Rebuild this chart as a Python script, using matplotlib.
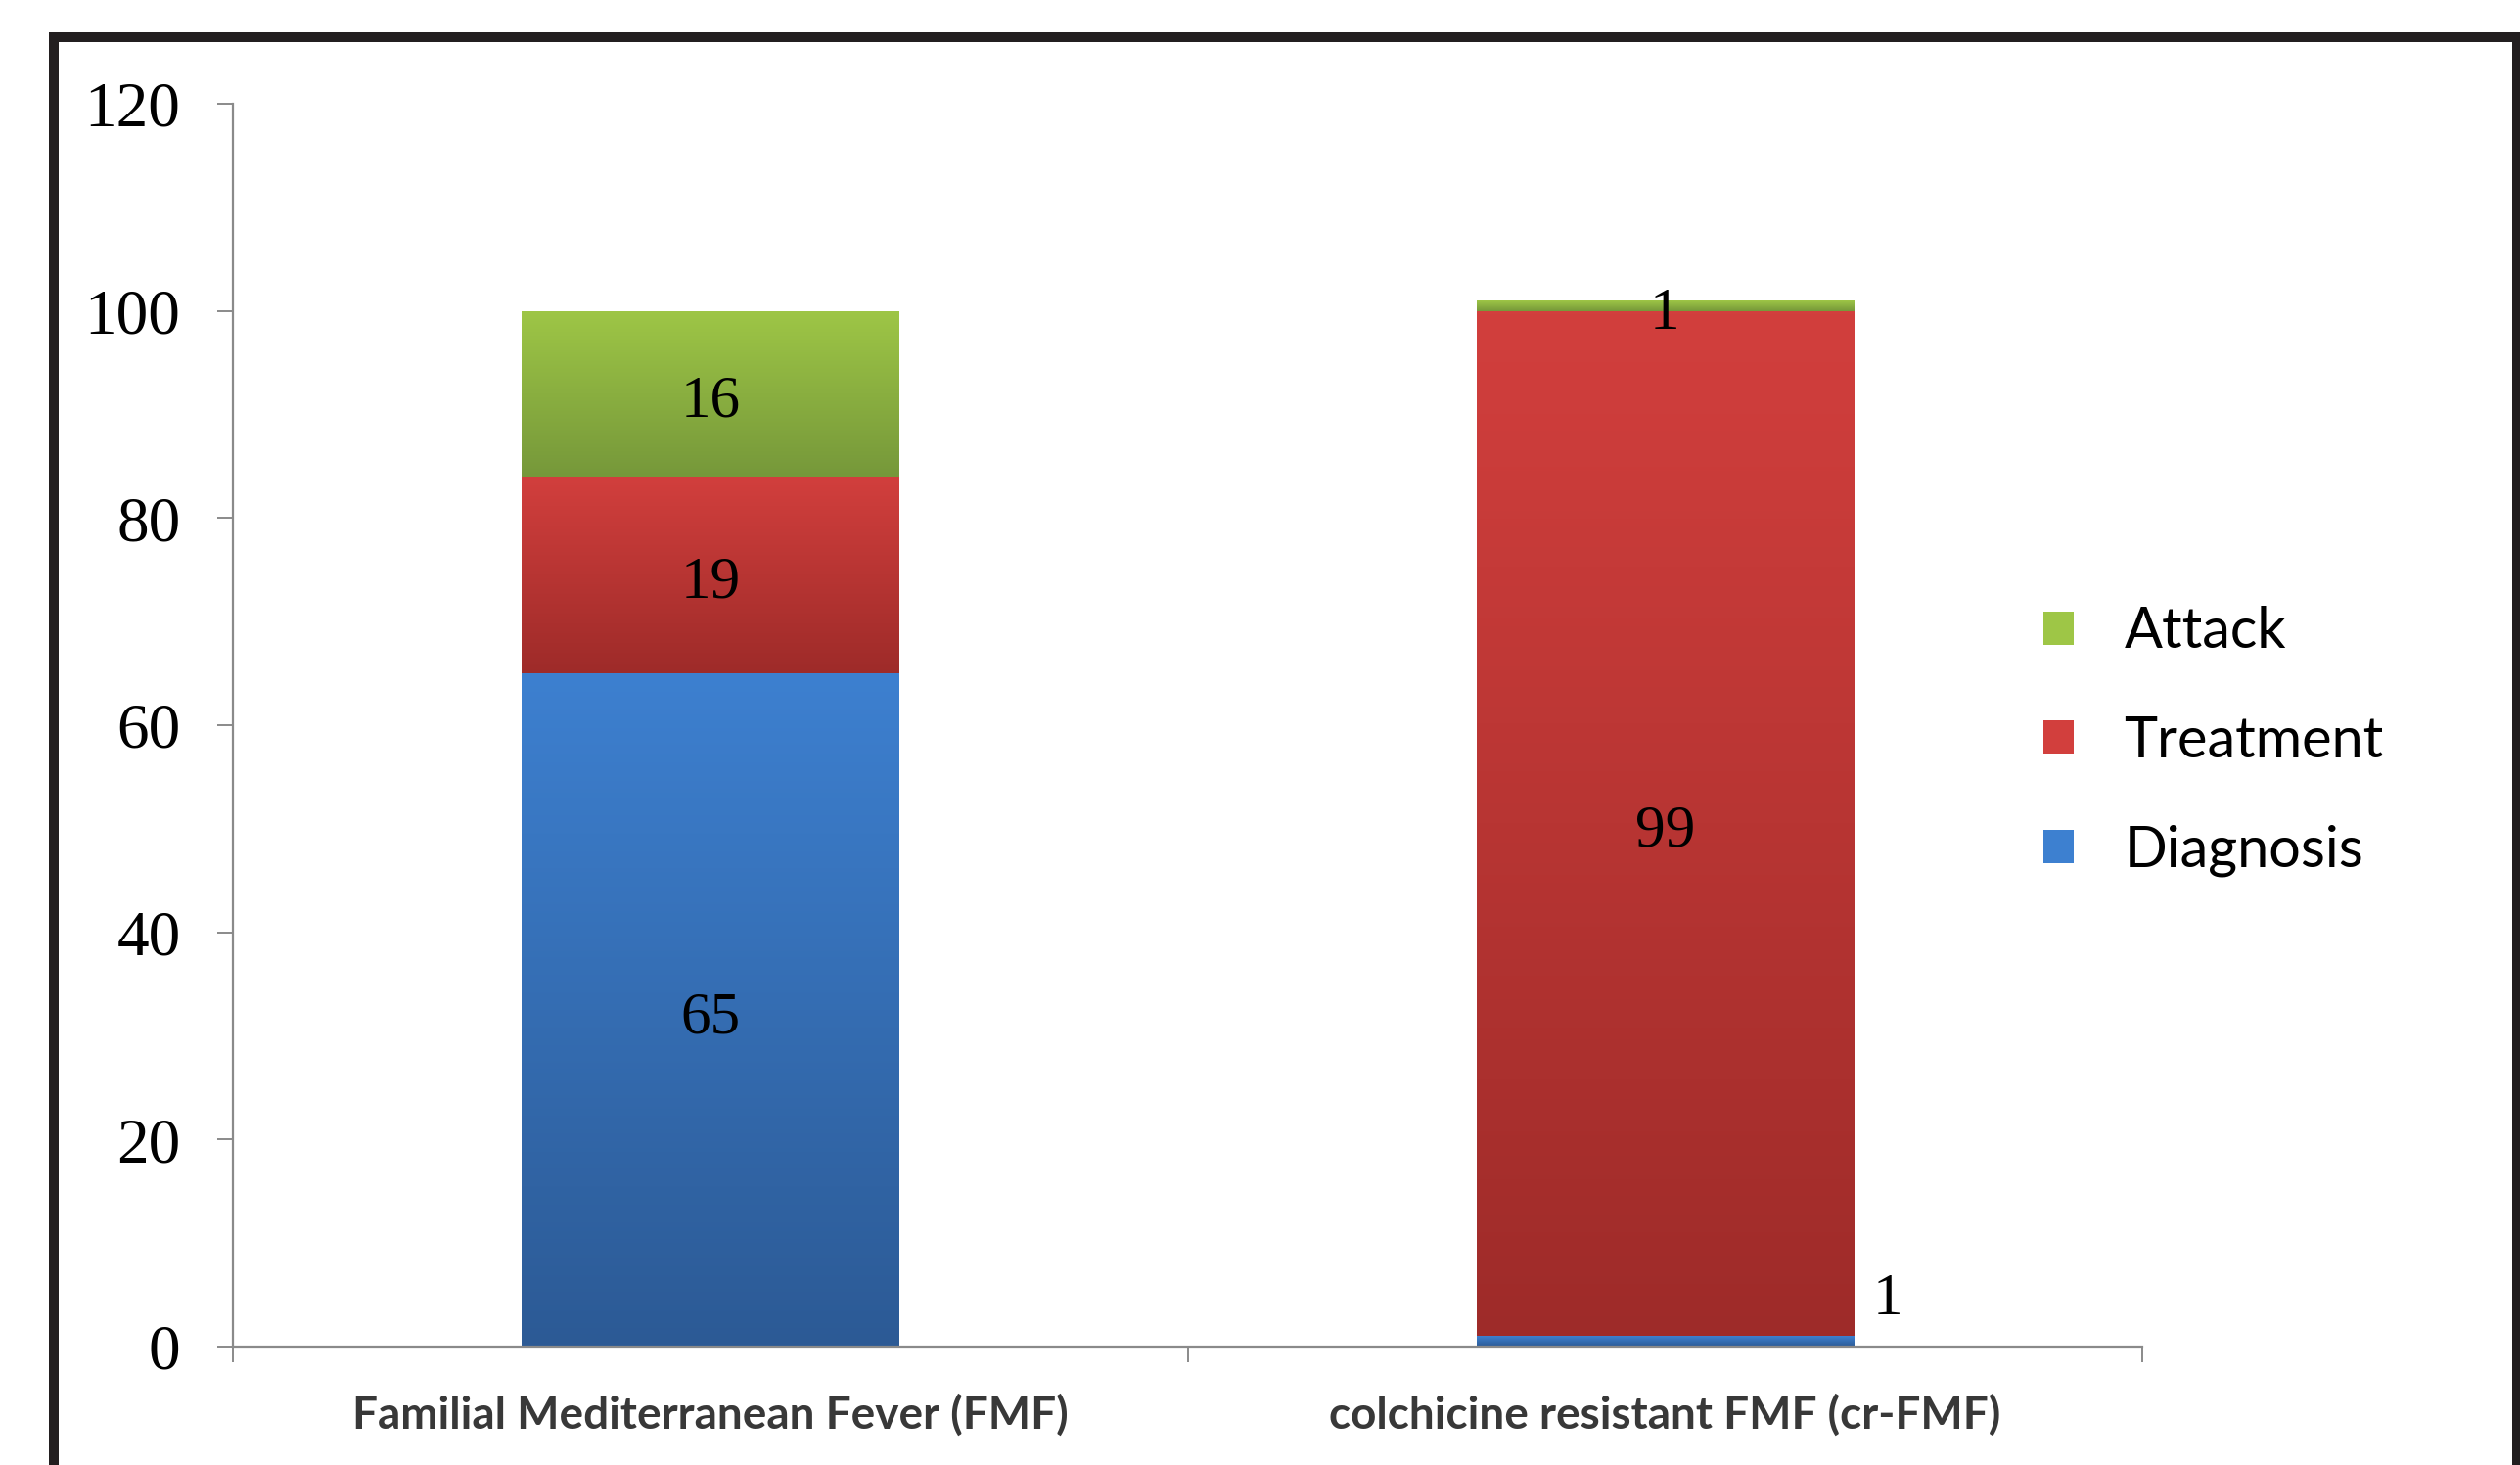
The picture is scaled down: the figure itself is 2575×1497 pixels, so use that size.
import matplotlib
matplotlib.use("Agg")
import matplotlib.pyplot as plt
import numpy as np
from matplotlib.colors import LinearSegmentedColormap
from matplotlib.patches import Rectangle, Patch

categories = ["Familial Mediterranean Fever (FMF)", "colchicine resistant FMF (cr-FMF)"]
diagnosis = [65, 1]
treatment = [19, 99]
attack = [16, 1]

# (top, bottom) colours of the vertical gradient in each segment
GREEN = ("#9ec646", "#76983a")
RED = ("#d23f3d", "#9e2b29")
BLUE = ("#3d80d0", "#2c5a95")

W, H, DPI = 2575, 1497, 100


def gradient_fill(ax, bars, colors):
    cmap = LinearSegmentedColormap.from_list("seg", [colors[1], colors[0]])
    grad = np.linspace(0, 1, 256).reshape(-1, 1)
    for bar in bars:
        x, y = bar.get_xy()
        w, h = bar.get_width(), bar.get_height()
        if h <= 0:
            continue
        im = ax.imshow(grad, extent=(x, x + w, y, y + h), origin="lower",
                       cmap=cmap, aspect="auto", zorder=bar.get_zorder() + 0.1)
        im.set_clip_path(bar)


fig = plt.figure(figsize=(W / DPI, H / DPI), dpi=DPI)
ax = fig.add_axes([238 / W, 1 - 1376 / H, (2189 - 238) / W, (1376 - 106) / H])

x = np.arange(len(categories))
width = 0.395
b_diag = ax.bar(x, diagnosis, width, color=BLUE[0], linewidth=0, zorder=2)
b_treat = ax.bar(x, treatment, width, bottom=diagnosis, color=RED[0], linewidth=0, zorder=2)
bottom_att = [d + t for d, t in zip(diagnosis, treatment)]
b_att = ax.bar(x, attack, width, bottom=bottom_att, color=GREEN[0], linewidth=0, zorder=2)
gradient_fill(ax, b_diag, BLUE)
gradient_fill(ax, b_treat, RED)
gradient_fill(ax, b_att, GREEN)

ax.set_xlim(-0.5, 1.5)
ax.set_ylim(0, 120)

serif = "Liberation Serif"
drop = 0.8  # labels sit a little below the segment middle, as in the original
label_kw = dict(ha="center", va="center", fontsize=44, family=serif, color="black", zorder=5)
# values inside the FMF bar
ax.text(x[0], diagnosis[0] / 2 - drop, str(diagnosis[0]), **label_kw)
ax.text(x[0], diagnosis[0] + treatment[0] / 2 - drop, str(treatment[0]), **label_kw)
ax.text(x[0], bottom_att[0] + attack[0] / 2 - drop, str(attack[0]), **label_kw)
# cr-FMF bar
ax.text(x[1], diagnosis[1] + treatment[1] / 2 - drop, str(treatment[1]), **label_kw)
ax.text(x[1], bottom_att[1] + attack[1] / 2 - drop, str(attack[1]), **label_kw)
ax.text(x[1] + width / 2 + 0.02, diagnosis[1] + 3.5, str(diagnosis[1]),
        ha="left", va="center", fontsize=44, family=serif, color="black")

# axes styling
axis_grey = "#8a8a8a"
for side in ("top", "right"):
    ax.spines[side].set_visible(False)
for side in ("left", "bottom"):
    ax.spines[side].set_color(axis_grey)
    ax.spines[side].set_linewidth(1.6)

ax.set_yticks(range(0, 121, 20))
ax.tick_params(axis="y", direction="out", length=11.5, width=1.4, color=axis_grey,
               pad=27, labelsize=47)
for lbl in ax.get_yticklabels():
    lbl.set_family(serif)

ax.set_xticks(x, categories)
ax.set_xticks([-0.5, 0.5, 1.5], minor=True)
ax.tick_params(axis="x", which="major", length=0, pad=35, labelsize=33,
               labelcolor="#383838")
ax.tick_params(axis="x", which="minor", direction="out", length=11.5, width=1.4,
               color=axis_grey)
for lbl in ax.get_xticklabels():
    lbl.set_family("Lato")
    lbl.set_fontweight("bold")

handles = [Patch(facecolor=GREEN[0]), Patch(facecolor=RED[0]), Patch(facecolor=BLUE[0])]
fig.legend(handles, ["Attack", "Treatment", "Diagnosis"], loc="upper left",
           bbox_to_anchor=(2088 / W, 1 - 619 / H), bbox_transform=fig.transFigure,
           frameon=False, prop={"family": "Lato", "size": 41.5},
           handlelength=0.53, handleheight=0.53, handletextpad=0.9,
           labelspacing=1.02, borderpad=0, borderaxespad=0)

# thick black frame around the chart (bottom edge runs off the picture)
frame = Rectangle((55 / W, -0.05), (2572 - 55) / W, 1 - 38 / H + 0.05,
                  transform=fig.transFigure, fill=False, edgecolor="#231f20",
                  linewidth=7.2, zorder=10)
fig.patches.append(frame)

fig.savefig("out.png", dpi=DPI)
